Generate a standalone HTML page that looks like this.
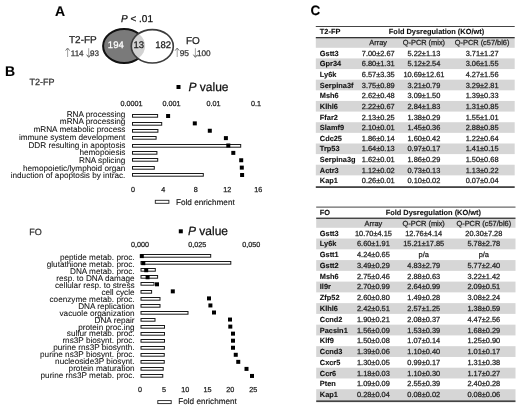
<!DOCTYPE html>
<html><head><meta charset="utf-8"><style>
html,body{margin:0;padding:0;background:#fff;}
svg{display:block;font-family:"Liberation Sans", sans-serif;text-rendering:geometricPrecision;filter:blur(0.35px);}
</style></head><body>
<svg width="520" height="406" viewBox="0 0 520 406">
<rect width="520" height="406" fill="#fff"/>
<text x="55" y="15.8" text-anchor="start" fill="#000" stroke="#000" stroke-width="0.1" style="font-size:14px;font-weight:bold;" >A</text>
<text x="121" y="22" style="font-size:10px" fill="#111" stroke="#111" stroke-width="0.25"><tspan font-style="italic">P</tspan> &lt; .01</text>
<defs><clipPath id="cr"><ellipse cx="152.3" cy="46.3" rx="21.0" ry="16.7"/></clipPath></defs>
<ellipse cx="124.1" cy="46.0" rx="21.0" ry="17.1" fill="#7a7a7a" stroke="#111" stroke-width="2"/>
<ellipse cx="152.3" cy="46.3" rx="21.0" ry="16.7" fill="#fff"/>
<ellipse cx="124.1" cy="46.0" rx="21.0" ry="17.1" fill="#d2d2d2" clip-path="url(#cr)"/>
<ellipse cx="152.3" cy="46.3" rx="21.0" ry="16.7" fill="none" stroke="#3c3c3c" stroke-width="1.6"/>
<text x="115.8" y="48.4" text-anchor="middle" fill="#fff" stroke="#fff" stroke-width="0.25" style="font-size:9.5px;" >194</text>
<text x="138.8" y="48.4" text-anchor="middle" fill="#1a1a1a" stroke="#1a1a1a" stroke-width="0.25" style="font-size:9.5px;" >13</text>
<text x="163.2" y="48.4" text-anchor="middle" fill="#1a1a1a" stroke="#1a1a1a" stroke-width="0.25" style="font-size:9.5px;" >182</text>
<text x="69" y="43" text-anchor="start" fill="#222" stroke="#222" stroke-width="0.25" style="font-size:10px;" >T2-FP</text>
<text x="186" y="43.5" text-anchor="start" fill="#222" stroke="#222" stroke-width="0.25" style="font-size:10px;" >FO</text>
<path d="M67.6 57 L67.6 49" stroke="#999" stroke-width="0.9" fill="none"/>
<path d="M65.6 50.6 L67.6 48 L69.6 50.6" stroke="#666" stroke-width="0.9" fill="none"/>
<text x="70.8" y="55.6" text-anchor="start" fill="#333" stroke="#333" stroke-width="0.25" style="font-size:8px;" >114</text>
<path d="M88.7 48.2 L88.7 56.3" stroke="#999" stroke-width="0.9" fill="none"/>
<path d="M86.7 54.699999999999996 L88.7 57.3 L90.7 54.699999999999996" stroke="#444" stroke-width="0.9" fill="none"/>
<text x="90.0" y="55.6" text-anchor="start" fill="#333" stroke="#333" stroke-width="0.25" style="font-size:8px;" >93</text>
<path d="M177.2 57 L177.2 49" stroke="#999" stroke-width="0.9" fill="none"/>
<path d="M175.2 50.6 L177.2 48 L179.2 50.6" stroke="#666" stroke-width="0.9" fill="none"/>
<text x="179.7" y="55.8" text-anchor="start" fill="#333" stroke="#333" stroke-width="0.25" style="font-size:8.4px;" >95</text>
<path d="M195.4 48.2 L195.4 56.3" stroke="#999" stroke-width="0.9" fill="none"/>
<path d="M193.4 54.699999999999996 L195.4 57.3 L197.4 54.699999999999996" stroke="#444" stroke-width="0.9" fill="none"/>
<text x="197.0" y="55.8" text-anchor="start" fill="#333" stroke="#333" stroke-width="0.25" style="font-size:8.2px;" >100</text>
<text x="5" y="75.6" text-anchor="start" fill="#000" stroke="#000" stroke-width="0.1" style="font-size:14px;font-weight:bold;" >B</text>
<text x="29.4" y="84.8" text-anchor="start" fill="#333" stroke="#333" stroke-width="0.25" style="font-size:9px;" >T2-FP</text>
<rect x="176.5" y="85" width="4" height="4" fill="#000"/>
<text x="188.5" y="90.8" style="font-size:12px" fill="#111" stroke="#111" stroke-width="0.25"><tspan font-style="italic">P</tspan> value</text>
<text x="131.5" y="105.5" text-anchor="middle" fill="#222" stroke="#222" stroke-width="0.25" style="font-size:7.2px;" >0.0001</text>
<text x="171.5" y="105.5" text-anchor="middle" fill="#222" stroke="#222" stroke-width="0.25" style="font-size:7.2px;" >0.001</text>
<text x="213.4" y="105.5" text-anchor="middle" fill="#222" stroke="#222" stroke-width="0.25" style="font-size:7.2px;" >0.01</text>
<text x="256" y="105.5" text-anchor="middle" fill="#222" stroke="#222" stroke-width="0.25" style="font-size:7.2px;" >0.1</text>
<rect x="132.5" y="114.5" width="25.10" height="2.7" fill="#fff" stroke="#1a1a1a" stroke-width="1"/>
<rect x="166.10" y="114.00" width="4" height="4" fill="#000"/>
<text x="125.4" y="116.70" text-anchor="end" fill="#111" stroke="#111" stroke-width="0.06" style="font-size:8.2px;" >RNA processing</text>
<rect x="132.5" y="122.5" width="29.20" height="2.7" fill="#fff" stroke="#1a1a1a" stroke-width="1"/>
<rect x="192.80" y="121.38" width="4" height="4" fill="#000"/>
<text x="125.4" y="124.42" text-anchor="end" fill="#111" stroke="#111" stroke-width="0.06" style="font-size:8.2px;" >mRNA processing</text>
<rect x="132.5" y="129.5" width="25.40" height="2.7" fill="#fff" stroke="#1a1a1a" stroke-width="1"/>
<rect x="207.80" y="128.75" width="4" height="4" fill="#000"/>
<text x="125.4" y="132.14" text-anchor="end" fill="#111" stroke="#111" stroke-width="0.06" style="font-size:8.2px;" >mRNA metabolic process</text>
<rect x="132.5" y="136.5" width="23.60" height="2.7" fill="#fff" stroke="#1a1a1a" stroke-width="1"/>
<rect x="223.90" y="136.12" width="4" height="4" fill="#000"/>
<text x="125.4" y="139.86" text-anchor="end" fill="#111" stroke="#111" stroke-width="0.06" style="font-size:8.2px;" >immune system development</text>
<rect x="132.5" y="144.5" width="108.20" height="2.7" fill="#fff" stroke="#1a1a1a" stroke-width="1"/>
<rect x="226.30" y="143.50" width="4" height="4" fill="#000"/>
<text x="125.4" y="147.58" text-anchor="end" fill="#111" stroke="#111" stroke-width="0.06" style="font-size:8.2px;" >DDR resulting in apoptosis</text>
<rect x="132.5" y="151.5" width="24.40" height="2.7" fill="#fff" stroke="#1a1a1a" stroke-width="1"/>
<rect x="231.30" y="150.88" width="4" height="4" fill="#000"/>
<text x="125.4" y="155.30" text-anchor="end" fill="#111" stroke="#111" stroke-width="0.06" style="font-size:8.2px;" >hemopoiesis</text>
<rect x="132.5" y="158.5" width="25.20" height="2.7" fill="#fff" stroke="#1a1a1a" stroke-width="1"/>
<rect x="239.20" y="158.25" width="4" height="4" fill="#000"/>
<text x="125.4" y="163.02" text-anchor="end" fill="#111" stroke="#111" stroke-width="0.06" style="font-size:8.2px;" >RNA splicing</text>
<rect x="132.5" y="166.5" width="21.80" height="2.7" fill="#fff" stroke="#1a1a1a" stroke-width="1"/>
<rect x="239.80" y="165.62" width="4" height="4" fill="#000"/>
<text x="125.4" y="170.74" text-anchor="end" fill="#111" stroke="#111" stroke-width="0.06" style="font-size:8.2px;" >hemopoietic/lymphoid organ</text>
<rect x="132.5" y="173.5" width="70.80" height="2.7" fill="#fff" stroke="#1a1a1a" stroke-width="1"/>
<rect x="240.10" y="173.00" width="4" height="4" fill="#000"/>
<text x="125.4" y="178.46" text-anchor="end" fill="#111" stroke="#111" stroke-width="0.06" style="font-size:8.2px;" >induction of apoptosis by intrac.</text>
<text x="133" y="191.5" text-anchor="middle" fill="#222" stroke="#222" stroke-width="0.25" style="font-size:7.2px;" >0</text>
<text x="163.3" y="191.5" text-anchor="middle" fill="#222" stroke="#222" stroke-width="0.25" style="font-size:7.2px;" >4</text>
<text x="195.8" y="191.5" text-anchor="middle" fill="#222" stroke="#222" stroke-width="0.25" style="font-size:7.2px;" >8</text>
<text x="227.3" y="191.5" text-anchor="middle" fill="#222" stroke="#222" stroke-width="0.25" style="font-size:7.2px;" >12</text>
<text x="258.2" y="191.5" text-anchor="middle" fill="#222" stroke="#222" stroke-width="0.25" style="font-size:7.2px;" >16</text>
<rect x="155.3" y="200.3" width="13.6" height="3" fill="#fff" stroke="#222" stroke-width="0.9"/>
<text x="176" y="205" text-anchor="start" fill="#111" stroke="#111" stroke-width="0.12" style="font-size:8.2px;" >Fold enrichment</text>
<text x="29.2" y="234.6" text-anchor="start" fill="#333" stroke="#333" stroke-width="0.25" style="font-size:9px;" >FO</text>
<rect x="178.8" y="229.3" width="4" height="4" fill="#000"/>
<text x="188" y="235" style="font-size:12px" fill="#111" stroke="#111" stroke-width="0.25"><tspan font-style="italic">P</tspan> value</text>
<text x="140" y="247" text-anchor="middle" fill="#222" stroke="#222" stroke-width="0.25" style="font-size:7.2px;" >0,000</text>
<text x="197.2" y="247" text-anchor="middle" fill="#222" stroke="#222" stroke-width="0.25" style="font-size:7.2px;" >0,025</text>
<text x="251.3" y="247" text-anchor="middle" fill="#222" stroke="#222" stroke-width="0.25" style="font-size:7.2px;" >0,050</text>
<rect x="141.0" y="254.5" width="69.70" height="2.7" fill="#fff" stroke="#1a1a1a" stroke-width="1"/>
<rect x="139.80" y="254.10" width="4" height="4" fill="#000"/>
<text x="134.6" y="260.00" text-anchor="end" fill="#111" stroke="#111" stroke-width="0.06" style="font-size:8.2px;" >peptide metab. proc.</text>
<rect x="141.0" y="261.5" width="89.80" height="2.7" fill="#fff" stroke="#1a1a1a" stroke-width="1"/>
<rect x="141.30" y="261.15" width="4" height="4" fill="#000"/>
<text x="134.6" y="266.95" text-anchor="end" fill="#111" stroke="#111" stroke-width="0.06" style="font-size:8.2px;" >glutathione metab. proc.</text>
<rect x="141.0" y="268.5" width="14.30" height="2.7" fill="#fff" stroke="#1a1a1a" stroke-width="1"/>
<rect x="144.20" y="268.20" width="4" height="4" fill="#000"/>
<text x="134.6" y="273.90" text-anchor="end" fill="#111" stroke="#111" stroke-width="0.06" style="font-size:8.2px;" >DNA metab. proc.</text>
<rect x="141.0" y="275.5" width="16.60" height="2.7" fill="#fff" stroke="#1a1a1a" stroke-width="1"/>
<rect x="145.60" y="275.25" width="4" height="4" fill="#000"/>
<text x="134.6" y="280.85" text-anchor="end" fill="#111" stroke="#111" stroke-width="0.06" style="font-size:8.2px;" >resp. to DNA damage</text>
<rect x="141.0" y="282.5" width="13.00" height="2.7" fill="#fff" stroke="#1a1a1a" stroke-width="1"/>
<rect x="155.00" y="282.30" width="4" height="4" fill="#000"/>
<text x="134.6" y="287.80" text-anchor="end" fill="#111" stroke="#111" stroke-width="0.06" style="font-size:8.2px;" >cellular resp. to stress</text>
<rect x="141.0" y="290.5" width="10.60" height="2.7" fill="#fff" stroke="#1a1a1a" stroke-width="1"/>
<rect x="170.80" y="289.35" width="4" height="4" fill="#000"/>
<text x="134.6" y="294.75" text-anchor="end" fill="#111" stroke="#111" stroke-width="0.06" style="font-size:8.2px;" >cell cycle</text>
<rect x="141.0" y="297.5" width="19.00" height="2.7" fill="#fff" stroke="#1a1a1a" stroke-width="1"/>
<rect x="207.00" y="296.40" width="4" height="4" fill="#000"/>
<text x="134.6" y="301.70" text-anchor="end" fill="#111" stroke="#111" stroke-width="0.06" style="font-size:8.2px;" >coenzyme metab. proc.</text>
<rect x="141.0" y="304.5" width="19.00" height="2.7" fill="#fff" stroke="#1a1a1a" stroke-width="1"/>
<rect x="208.40" y="303.45" width="4" height="4" fill="#000"/>
<text x="134.6" y="308.65" text-anchor="end" fill="#111" stroke="#111" stroke-width="0.06" style="font-size:8.2px;" >DNA replication</text>
<rect x="141.0" y="311.5" width="47.00" height="2.7" fill="#fff" stroke="#1a1a1a" stroke-width="1"/>
<rect x="212.00" y="310.50" width="4" height="4" fill="#000"/>
<text x="134.6" y="315.60" text-anchor="end" fill="#111" stroke="#111" stroke-width="0.06" style="font-size:8.2px;" >vacuole organization</text>
<rect x="141.0" y="318.5" width="14.00" height="2.7" fill="#fff" stroke="#1a1a1a" stroke-width="1"/>
<rect x="228.00" y="317.55" width="4" height="4" fill="#000"/>
<text x="134.6" y="322.55" text-anchor="end" fill="#111" stroke="#111" stroke-width="0.06" style="font-size:8.2px;" >DNA repair</text>
<rect x="141.0" y="325.5" width="23.50" height="2.7" fill="#fff" stroke="#1a1a1a" stroke-width="1"/>
<rect x="228.30" y="324.60" width="4" height="4" fill="#000"/>
<text x="134.6" y="329.50" text-anchor="end" fill="#111" stroke="#111" stroke-width="0.06" style="font-size:8.2px;" >protein proc.ing</text>
<rect x="141.0" y="332.5" width="23.50" height="2.7" fill="#fff" stroke="#1a1a1a" stroke-width="1"/>
<rect x="231.00" y="331.65" width="4" height="4" fill="#000"/>
<text x="134.6" y="336.45" text-anchor="end" fill="#111" stroke="#111" stroke-width="0.06" style="font-size:8.2px;" >sulfur metab. proc.</text>
<rect x="141.0" y="339.5" width="23.50" height="2.7" fill="#fff" stroke="#1a1a1a" stroke-width="1"/>
<rect x="231.00" y="338.70" width="4" height="4" fill="#000"/>
<text x="134.6" y="343.40" text-anchor="end" fill="#111" stroke="#111" stroke-width="0.06" style="font-size:8.2px;" >rns3P biosynt. proc.</text>
<rect x="141.0" y="346.5" width="23.40" height="2.7" fill="#fff" stroke="#1a1a1a" stroke-width="1"/>
<rect x="231.00" y="345.75" width="4" height="4" fill="#000"/>
<text x="134.6" y="350.35" text-anchor="end" fill="#111" stroke="#111" stroke-width="0.06" style="font-size:8.2px;" >purine rns3P biosynth.</text>
<rect x="141.0" y="353.5" width="23.25" height="2.7" fill="#fff" stroke="#1a1a1a" stroke-width="1"/>
<rect x="233.75" y="352.80" width="4" height="4" fill="#000"/>
<text x="134.6" y="357.30" text-anchor="end" fill="#111" stroke="#111" stroke-width="0.06" style="font-size:8.2px;" >purine ns3P biosynt. proc.</text>
<rect x="141.0" y="360.5" width="23.25" height="2.7" fill="#fff" stroke="#1a1a1a" stroke-width="1"/>
<rect x="236.25" y="359.85" width="4" height="4" fill="#000"/>
<text x="134.6" y="364.25" text-anchor="end" fill="#111" stroke="#111" stroke-width="0.06" style="font-size:8.2px;" >nucleoside3P biosynt.</text>
<rect x="141.0" y="367.5" width="22.25" height="2.7" fill="#fff" stroke="#1a1a1a" stroke-width="1"/>
<rect x="244.50" y="366.90" width="4" height="4" fill="#000"/>
<text x="134.6" y="371.20" text-anchor="end" fill="#111" stroke="#111" stroke-width="0.06" style="font-size:8.2px;" >protein maturation</text>
<rect x="141.0" y="374.5" width="21.75" height="2.7" fill="#fff" stroke="#1a1a1a" stroke-width="1"/>
<rect x="250.00" y="373.95" width="4" height="4" fill="#000"/>
<text x="134.6" y="378.15" text-anchor="end" fill="#111" stroke="#111" stroke-width="0.06" style="font-size:8.2px;" >purine rns3P metab. proc.</text>
<text x="140" y="392.4" text-anchor="middle" fill="#222" stroke="#222" stroke-width="0.25" style="font-size:7.2px;" >0</text>
<text x="164" y="392.4" text-anchor="middle" fill="#222" stroke="#222" stroke-width="0.25" style="font-size:7.2px;" >5</text>
<text x="185.2" y="392.4" text-anchor="middle" fill="#222" stroke="#222" stroke-width="0.25" style="font-size:7.2px;" >10</text>
<text x="207.4" y="392.4" text-anchor="middle" fill="#222" stroke="#222" stroke-width="0.25" style="font-size:7.2px;" >15</text>
<text x="230.3" y="392.4" text-anchor="middle" fill="#222" stroke="#222" stroke-width="0.25" style="font-size:7.2px;" >20</text>
<text x="253.2" y="392.4" text-anchor="middle" fill="#222" stroke="#222" stroke-width="0.25" style="font-size:7.2px;" >25</text>
<rect x="157.8" y="400.6" width="13.4" height="3" fill="#fff" stroke="#222" stroke-width="0.9"/>
<text x="178.2" y="404.2" text-anchor="start" fill="#111" stroke="#111" stroke-width="0.12" style="font-size:8.2px;" >Fold enrichment</text>
<text x="310.4" y="15.2" text-anchor="start" fill="#000" stroke="#000" stroke-width="0.1" style="font-size:13.5px;font-weight:bold;" >C</text>
<rect x="315.8" y="26.0" width="198.90000000000003" height="1" fill="#444"/>
<text x="319.8" y="34.1" text-anchor="start" fill="#111" stroke="#111" stroke-width="0.1" style="font-size:7.4px;font-weight:bold;" >T2-FP</text>
<text x="436.5" y="34.1" text-anchor="middle" fill="#111" stroke="#111" stroke-width="0.1" style="font-size:7.4px;font-weight:bold;" >Fold Dysregulation (KO/wt)</text>
<rect x="315.8" y="38.0" width="198.90000000000003" height="9.799999999999997" fill="#d6d6d6"/>
<rect x="315.8" y="37.0" width="198.90000000000003" height="1.3" fill="#333"/>
<text x="378.2" y="45.3" text-anchor="middle" fill="#222" stroke="#222" stroke-width="0.25" style="font-size:7.4px;" >Array</text>
<text x="423.9" y="45.3" text-anchor="middle" fill="#222" stroke="#222" stroke-width="0.25" style="font-size:7.4px;" >Q-PCR (mix)</text>
<text x="482.1" y="45.3" text-anchor="middle" fill="#222" stroke="#222" stroke-width="0.25" style="font-size:7.4px;" >Q-PCR (c57/bl6)</text>
<text x="319.8" y="55.82" text-anchor="start" fill="#111" stroke="#111" stroke-width="0.1" style="font-size:7.4px;font-weight:bold;" >Gstt3</text>
<text x="378.2" y="55.82" text-anchor="middle" fill="#222" stroke="#222" stroke-width="0.25" style="font-size:7.4px;" >7.00±2.67</text>
<text x="423.9" y="55.82" text-anchor="middle" fill="#222" stroke="#222" stroke-width="0.25" style="font-size:7.4px;" >5.22±1.13</text>
<text x="482.1" y="55.82" text-anchor="middle" fill="#222" stroke="#222" stroke-width="0.25" style="font-size:7.4px;" >3.71±1.27</text>
<rect x="315.8" y="58.43" width="198.90000000000003" height="10.63" fill="#d6d6d6"/>
<text x="319.8" y="66.45" text-anchor="start" fill="#111" stroke="#111" stroke-width="0.1" style="font-size:7.4px;font-weight:bold;" >Gpr34</text>
<text x="378.2" y="66.45" text-anchor="middle" fill="#222" stroke="#222" stroke-width="0.25" style="font-size:7.4px;" >6.80±1.31</text>
<text x="423.9" y="66.45" text-anchor="middle" fill="#222" stroke="#222" stroke-width="0.25" style="font-size:7.4px;" >5.12±2.54</text>
<text x="482.1" y="66.45" text-anchor="middle" fill="#222" stroke="#222" stroke-width="0.25" style="font-size:7.4px;" >3.06±1.55</text>
<text x="319.8" y="77.08" text-anchor="start" fill="#111" stroke="#111" stroke-width="0.1" style="font-size:7.4px;font-weight:bold;" >Ly6k</text>
<text x="378.2" y="77.08" text-anchor="middle" fill="#222" stroke="#222" stroke-width="0.25" style="font-size:7.4px;" >6.57±3.35</text>
<text x="423.9" y="77.08" text-anchor="middle" fill="#222" stroke="#222" stroke-width="0.25" style="font-size:7.4px;" >10.69±12.61</text>
<text x="482.1" y="77.08" text-anchor="middle" fill="#222" stroke="#222" stroke-width="0.25" style="font-size:7.4px;" >4.27±1.56</text>
<rect x="315.8" y="79.69" width="198.90000000000003" height="10.63" fill="#d6d6d6"/>
<text x="319.8" y="87.71" text-anchor="start" fill="#111" stroke="#111" stroke-width="0.1" style="font-size:7.4px;font-weight:bold;" >Serpina3f</text>
<text x="378.2" y="87.71" text-anchor="middle" fill="#222" stroke="#222" stroke-width="0.25" style="font-size:7.4px;" >3.75±0.89</text>
<text x="423.9" y="87.71" text-anchor="middle" fill="#222" stroke="#222" stroke-width="0.25" style="font-size:7.4px;" >3.21±0.79</text>
<text x="482.1" y="87.71" text-anchor="middle" fill="#222" stroke="#222" stroke-width="0.25" style="font-size:7.4px;" >3.29±2.81</text>
<text x="319.8" y="98.34" text-anchor="start" fill="#111" stroke="#111" stroke-width="0.1" style="font-size:7.4px;font-weight:bold;" >Msh6</text>
<text x="378.2" y="98.34" text-anchor="middle" fill="#222" stroke="#222" stroke-width="0.25" style="font-size:7.4px;" >2.62±0.48</text>
<text x="423.9" y="98.34" text-anchor="middle" fill="#222" stroke="#222" stroke-width="0.25" style="font-size:7.4px;" >3.09±1.50</text>
<text x="482.1" y="98.34" text-anchor="middle" fill="#222" stroke="#222" stroke-width="0.25" style="font-size:7.4px;" >1.39±0.33</text>
<rect x="315.8" y="100.95" width="198.90000000000003" height="10.63" fill="#d6d6d6"/>
<text x="319.8" y="108.97" text-anchor="start" fill="#111" stroke="#111" stroke-width="0.1" style="font-size:7.4px;font-weight:bold;" >Klhl6</text>
<text x="378.2" y="108.97" text-anchor="middle" fill="#222" stroke="#222" stroke-width="0.25" style="font-size:7.4px;" >2.22±0.67</text>
<text x="423.9" y="108.97" text-anchor="middle" fill="#222" stroke="#222" stroke-width="0.25" style="font-size:7.4px;" >2.84±1.83</text>
<text x="482.1" y="108.97" text-anchor="middle" fill="#222" stroke="#222" stroke-width="0.25" style="font-size:7.4px;" >1.31±0.85</text>
<text x="319.8" y="119.60" text-anchor="start" fill="#111" stroke="#111" stroke-width="0.1" style="font-size:7.4px;font-weight:bold;" >Ffar2</text>
<text x="378.2" y="119.60" text-anchor="middle" fill="#222" stroke="#222" stroke-width="0.25" style="font-size:7.4px;" >2.13±0.25</text>
<text x="423.9" y="119.60" text-anchor="middle" fill="#222" stroke="#222" stroke-width="0.25" style="font-size:7.4px;" >1.38±0.29</text>
<text x="482.1" y="119.60" text-anchor="middle" fill="#222" stroke="#222" stroke-width="0.25" style="font-size:7.4px;" >1.55±1.01</text>
<rect x="315.8" y="122.22" width="198.90000000000003" height="10.63" fill="#d6d6d6"/>
<text x="319.8" y="130.23" text-anchor="start" fill="#111" stroke="#111" stroke-width="0.1" style="font-size:7.4px;font-weight:bold;" >Slamf9</text>
<text x="378.2" y="130.23" text-anchor="middle" fill="#222" stroke="#222" stroke-width="0.25" style="font-size:7.4px;" >2.10±0.01</text>
<text x="423.9" y="130.23" text-anchor="middle" fill="#222" stroke="#222" stroke-width="0.25" style="font-size:7.4px;" >1.45±0.36</text>
<text x="482.1" y="130.23" text-anchor="middle" fill="#222" stroke="#222" stroke-width="0.25" style="font-size:7.4px;" >2.88±0.85</text>
<text x="319.8" y="140.86" text-anchor="start" fill="#111" stroke="#111" stroke-width="0.1" style="font-size:7.4px;font-weight:bold;" >Cdc25</text>
<text x="378.2" y="140.86" text-anchor="middle" fill="#222" stroke="#222" stroke-width="0.25" style="font-size:7.4px;" >1.86±0.14</text>
<text x="423.9" y="140.86" text-anchor="middle" fill="#222" stroke="#222" stroke-width="0.25" style="font-size:7.4px;" >1.60±0.42</text>
<text x="482.1" y="140.86" text-anchor="middle" fill="#222" stroke="#222" stroke-width="0.25" style="font-size:7.4px;" >1.22±0.64</text>
<rect x="315.8" y="143.48" width="198.90000000000003" height="10.63" fill="#d6d6d6"/>
<text x="319.8" y="151.49" text-anchor="start" fill="#111" stroke="#111" stroke-width="0.1" style="font-size:7.4px;font-weight:bold;" >Trp53</text>
<text x="378.2" y="151.49" text-anchor="middle" fill="#222" stroke="#222" stroke-width="0.25" style="font-size:7.4px;" >1.64±0.13</text>
<text x="423.9" y="151.49" text-anchor="middle" fill="#222" stroke="#222" stroke-width="0.25" style="font-size:7.4px;" >0.97±0.17</text>
<text x="482.1" y="151.49" text-anchor="middle" fill="#222" stroke="#222" stroke-width="0.25" style="font-size:7.4px;" >1.41±0.15</text>
<text x="319.8" y="162.12" text-anchor="start" fill="#111" stroke="#111" stroke-width="0.1" style="font-size:7.4px;font-weight:bold;" >Serpina3g</text>
<text x="378.2" y="162.12" text-anchor="middle" fill="#222" stroke="#222" stroke-width="0.25" style="font-size:7.4px;" >1.62±0.01</text>
<text x="423.9" y="162.12" text-anchor="middle" fill="#222" stroke="#222" stroke-width="0.25" style="font-size:7.4px;" >1.86±0.29</text>
<text x="482.1" y="162.12" text-anchor="middle" fill="#222" stroke="#222" stroke-width="0.25" style="font-size:7.4px;" >1.50±0.68</text>
<rect x="315.8" y="164.74" width="198.90000000000003" height="10.63" fill="#d6d6d6"/>
<text x="319.8" y="172.75" text-anchor="start" fill="#111" stroke="#111" stroke-width="0.1" style="font-size:7.4px;font-weight:bold;" >Actr3</text>
<text x="378.2" y="172.75" text-anchor="middle" fill="#222" stroke="#222" stroke-width="0.25" style="font-size:7.4px;" >1.12±0.02</text>
<text x="423.9" y="172.75" text-anchor="middle" fill="#222" stroke="#222" stroke-width="0.25" style="font-size:7.4px;" >0.73±0.13</text>
<text x="482.1" y="172.75" text-anchor="middle" fill="#222" stroke="#222" stroke-width="0.25" style="font-size:7.4px;" >1.13±0.22</text>
<text x="319.8" y="183.38" text-anchor="start" fill="#111" stroke="#111" stroke-width="0.1" style="font-size:7.4px;font-weight:bold;" >Kap1</text>
<text x="378.2" y="183.38" text-anchor="middle" fill="#222" stroke="#222" stroke-width="0.25" style="font-size:7.4px;" >0.26±0.01</text>
<text x="423.9" y="183.38" text-anchor="middle" fill="#222" stroke="#222" stroke-width="0.25" style="font-size:7.4px;" >0.10±0.02</text>
<text x="482.1" y="183.38" text-anchor="middle" fill="#222" stroke="#222" stroke-width="0.25" style="font-size:7.4px;" >0.07±0.04</text>
<rect x="315.8" y="186.2" width="198.90000000000003" height="1.8" fill="#444"/>
<rect x="316.2" y="206.6" width="199.3" height="1" fill="#444"/>
<text x="319.8" y="214.7" text-anchor="start" fill="#111" stroke="#111" stroke-width="0.1" style="font-size:7.4px;font-weight:bold;" >FO</text>
<text x="433.3" y="214.7" text-anchor="middle" fill="#111" stroke="#111" stroke-width="0.1" style="font-size:7.4px;font-weight:bold;" >Fold Dysregulation (KO/wt)</text>
<rect x="316.2" y="218.6" width="199.3" height="9.200000000000017" fill="#d6d6d6"/>
<rect x="316.2" y="217.6" width="199.3" height="1.3" fill="#333"/>
<text x="373.4" y="225.9" text-anchor="middle" fill="#222" stroke="#222" stroke-width="0.25" style="font-size:7.4px;" >Array</text>
<text x="423.7" y="225.9" text-anchor="middle" fill="#222" stroke="#222" stroke-width="0.25" style="font-size:7.4px;" >Q-PCR (mix)</text>
<text x="483.8" y="225.9" text-anchor="middle" fill="#222" stroke="#222" stroke-width="0.25" style="font-size:7.4px;" >Q-PCR (c57/bl6)</text>
<text x="319.8" y="235.68" text-anchor="start" fill="#111" stroke="#111" stroke-width="0.1" style="font-size:7.4px;font-weight:bold;" >Gstt3</text>
<text x="373.4" y="235.68" text-anchor="middle" fill="#222" stroke="#222" stroke-width="0.25" style="font-size:7.4px;" >10.70±4.15</text>
<text x="423.7" y="235.68" text-anchor="middle" fill="#222" stroke="#222" stroke-width="0.25" style="font-size:7.4px;" >12.76±4.14</text>
<text x="483.8" y="235.68" text-anchor="middle" fill="#222" stroke="#222" stroke-width="0.25" style="font-size:7.4px;" >20.30±7.28</text>
<rect x="316.2" y="238.56" width="199.3" height="10.76" fill="#d6d6d6"/>
<text x="319.8" y="246.44" text-anchor="start" fill="#111" stroke="#111" stroke-width="0.1" style="font-size:7.4px;font-weight:bold;" >Ly6k</text>
<text x="373.4" y="246.44" text-anchor="middle" fill="#222" stroke="#222" stroke-width="0.25" style="font-size:7.4px;" >6.60±1.91</text>
<text x="423.7" y="246.44" text-anchor="middle" fill="#222" stroke="#222" stroke-width="0.25" style="font-size:7.4px;" >15.21±17.85</text>
<text x="483.8" y="246.44" text-anchor="middle" fill="#222" stroke="#222" stroke-width="0.25" style="font-size:7.4px;" >5.78±2.78</text>
<text x="319.8" y="257.21" text-anchor="start" fill="#111" stroke="#111" stroke-width="0.1" style="font-size:7.4px;font-weight:bold;" >Gstt1</text>
<text x="373.4" y="257.21" text-anchor="middle" fill="#222" stroke="#222" stroke-width="0.25" style="font-size:7.4px;" >4.24±0.65</text>
<text x="423.7" y="257.21" text-anchor="middle" fill="#222" stroke="#222" stroke-width="0.25" style="font-size:7.4px;" >p/a</text>
<text x="483.8" y="257.21" text-anchor="middle" fill="#222" stroke="#222" stroke-width="0.25" style="font-size:7.4px;" >p/a</text>
<rect x="316.2" y="260.09" width="199.3" height="10.76" fill="#d6d6d6"/>
<text x="319.8" y="267.97" text-anchor="start" fill="#111" stroke="#111" stroke-width="0.1" style="font-size:7.4px;font-weight:bold;" >Gstt2</text>
<text x="373.4" y="267.97" text-anchor="middle" fill="#222" stroke="#222" stroke-width="0.25" style="font-size:7.4px;" >3.49±0.29</text>
<text x="423.7" y="267.97" text-anchor="middle" fill="#222" stroke="#222" stroke-width="0.25" style="font-size:7.4px;" >4.83±2.79</text>
<text x="483.8" y="267.97" text-anchor="middle" fill="#222" stroke="#222" stroke-width="0.25" style="font-size:7.4px;" >5.77±2.40</text>
<text x="319.8" y="278.73" text-anchor="start" fill="#111" stroke="#111" stroke-width="0.1" style="font-size:7.4px;font-weight:bold;" >Msh6</text>
<text x="373.4" y="278.73" text-anchor="middle" fill="#222" stroke="#222" stroke-width="0.25" style="font-size:7.4px;" >2.75±0.46</text>
<text x="423.7" y="278.73" text-anchor="middle" fill="#222" stroke="#222" stroke-width="0.25" style="font-size:7.4px;" >2.88±0.63</text>
<text x="483.8" y="278.73" text-anchor="middle" fill="#222" stroke="#222" stroke-width="0.25" style="font-size:7.4px;" >3.22±1.42</text>
<rect x="316.2" y="281.61" width="199.3" height="10.76" fill="#d6d6d6"/>
<text x="319.8" y="289.49" text-anchor="start" fill="#111" stroke="#111" stroke-width="0.1" style="font-size:7.4px;font-weight:bold;" >Il9r</text>
<text x="373.4" y="289.49" text-anchor="middle" fill="#222" stroke="#222" stroke-width="0.25" style="font-size:7.4px;" >2.70±0.99</text>
<text x="423.7" y="289.49" text-anchor="middle" fill="#222" stroke="#222" stroke-width="0.25" style="font-size:7.4px;" >2.64±0.99</text>
<text x="483.8" y="289.49" text-anchor="middle" fill="#222" stroke="#222" stroke-width="0.25" style="font-size:7.4px;" >2.09±0.51</text>
<text x="319.8" y="300.26" text-anchor="start" fill="#111" stroke="#111" stroke-width="0.1" style="font-size:7.4px;font-weight:bold;" >Zfp52</text>
<text x="373.4" y="300.26" text-anchor="middle" fill="#222" stroke="#222" stroke-width="0.25" style="font-size:7.4px;" >2.60±0.80</text>
<text x="423.7" y="300.26" text-anchor="middle" fill="#222" stroke="#222" stroke-width="0.25" style="font-size:7.4px;" >1.49±0.28</text>
<text x="483.8" y="300.26" text-anchor="middle" fill="#222" stroke="#222" stroke-width="0.25" style="font-size:7.4px;" >3.08±2.24</text>
<rect x="316.2" y="303.14" width="199.3" height="10.76" fill="#d6d6d6"/>
<text x="319.8" y="311.02" text-anchor="start" fill="#111" stroke="#111" stroke-width="0.1" style="font-size:7.4px;font-weight:bold;" >Klhl6</text>
<text x="373.4" y="311.02" text-anchor="middle" fill="#222" stroke="#222" stroke-width="0.25" style="font-size:7.4px;" >2.42±0.51</text>
<text x="423.7" y="311.02" text-anchor="middle" fill="#222" stroke="#222" stroke-width="0.25" style="font-size:7.4px;" >2.57±1.25</text>
<text x="483.8" y="311.02" text-anchor="middle" fill="#222" stroke="#222" stroke-width="0.25" style="font-size:7.4px;" >1.38±0.59</text>
<text x="319.8" y="321.78" text-anchor="start" fill="#111" stroke="#111" stroke-width="0.1" style="font-size:7.4px;font-weight:bold;" >Ccnd2</text>
<text x="373.4" y="321.78" text-anchor="middle" fill="#222" stroke="#222" stroke-width="0.25" style="font-size:7.4px;" >1.90±0.21</text>
<text x="423.7" y="321.78" text-anchor="middle" fill="#222" stroke="#222" stroke-width="0.25" style="font-size:7.4px;" >2.08±0.37</text>
<text x="483.8" y="321.78" text-anchor="middle" fill="#222" stroke="#222" stroke-width="0.25" style="font-size:7.4px;" >4.47±2.56</text>
<rect x="316.2" y="324.66" width="199.3" height="10.76" fill="#d6d6d6"/>
<text x="319.8" y="332.54" text-anchor="start" fill="#111" stroke="#111" stroke-width="0.1" style="font-size:7.4px;font-weight:bold;" >Pacsin1</text>
<text x="373.4" y="332.54" text-anchor="middle" fill="#222" stroke="#222" stroke-width="0.25" style="font-size:7.4px;" >1.56±0.09</text>
<text x="423.7" y="332.54" text-anchor="middle" fill="#222" stroke="#222" stroke-width="0.25" style="font-size:7.4px;" >1.53±0.39</text>
<text x="483.8" y="332.54" text-anchor="middle" fill="#222" stroke="#222" stroke-width="0.25" style="font-size:7.4px;" >1.68±0.29</text>
<text x="319.8" y="343.31" text-anchor="start" fill="#111" stroke="#111" stroke-width="0.1" style="font-size:7.4px;font-weight:bold;" >Klf9</text>
<text x="373.4" y="343.31" text-anchor="middle" fill="#222" stroke="#222" stroke-width="0.25" style="font-size:7.4px;" >1.50±0.08</text>
<text x="423.7" y="343.31" text-anchor="middle" fill="#222" stroke="#222" stroke-width="0.25" style="font-size:7.4px;" >1.07±0.14</text>
<text x="483.8" y="343.31" text-anchor="middle" fill="#222" stroke="#222" stroke-width="0.25" style="font-size:7.4px;" >1.25±0.90</text>
<rect x="316.2" y="346.19" width="199.3" height="10.76" fill="#d6d6d6"/>
<text x="319.8" y="354.07" text-anchor="start" fill="#111" stroke="#111" stroke-width="0.1" style="font-size:7.4px;font-weight:bold;" >Ccnd3</text>
<text x="373.4" y="354.07" text-anchor="middle" fill="#222" stroke="#222" stroke-width="0.25" style="font-size:7.4px;" >1.39±0.06</text>
<text x="423.7" y="354.07" text-anchor="middle" fill="#222" stroke="#222" stroke-width="0.25" style="font-size:7.4px;" >1.10±0.40</text>
<text x="483.8" y="354.07" text-anchor="middle" fill="#222" stroke="#222" stroke-width="0.25" style="font-size:7.4px;" >1.01±0.17</text>
<text x="319.8" y="364.83" text-anchor="start" fill="#111" stroke="#111" stroke-width="0.1" style="font-size:7.4px;font-weight:bold;" >Cxcr5</text>
<text x="373.4" y="364.83" text-anchor="middle" fill="#222" stroke="#222" stroke-width="0.25" style="font-size:7.4px;" >1.30±0.05</text>
<text x="423.7" y="364.83" text-anchor="middle" fill="#222" stroke="#222" stroke-width="0.25" style="font-size:7.4px;" >0.99±0.17</text>
<text x="483.8" y="364.83" text-anchor="middle" fill="#222" stroke="#222" stroke-width="0.25" style="font-size:7.4px;" >1.31±0.38</text>
<rect x="316.2" y="367.71" width="199.3" height="10.76" fill="#d6d6d6"/>
<text x="319.8" y="375.59" text-anchor="start" fill="#111" stroke="#111" stroke-width="0.1" style="font-size:7.4px;font-weight:bold;" >Ccr6</text>
<text x="373.4" y="375.59" text-anchor="middle" fill="#222" stroke="#222" stroke-width="0.25" style="font-size:7.4px;" >1.18±0.03</text>
<text x="423.7" y="375.59" text-anchor="middle" fill="#222" stroke="#222" stroke-width="0.25" style="font-size:7.4px;" >1.10±0.30</text>
<text x="483.8" y="375.59" text-anchor="middle" fill="#222" stroke="#222" stroke-width="0.25" style="font-size:7.4px;" >1.17±0.27</text>
<text x="319.8" y="386.36" text-anchor="start" fill="#111" stroke="#111" stroke-width="0.1" style="font-size:7.4px;font-weight:bold;" >Pten</text>
<text x="373.4" y="386.36" text-anchor="middle" fill="#222" stroke="#222" stroke-width="0.25" style="font-size:7.4px;" >1.09±0.09</text>
<text x="423.7" y="386.36" text-anchor="middle" fill="#222" stroke="#222" stroke-width="0.25" style="font-size:7.4px;" >2.55±0.39</text>
<text x="483.8" y="386.36" text-anchor="middle" fill="#222" stroke="#222" stroke-width="0.25" style="font-size:7.4px;" >2.40±0.28</text>
<rect x="316.2" y="389.24" width="199.3" height="10.76" fill="#d6d6d6"/>
<text x="319.8" y="397.12" text-anchor="start" fill="#111" stroke="#111" stroke-width="0.1" style="font-size:7.4px;font-weight:bold;" >Kap1</text>
<text x="373.4" y="397.12" text-anchor="middle" fill="#222" stroke="#222" stroke-width="0.25" style="font-size:7.4px;" >0.28±0.04</text>
<text x="423.7" y="397.12" text-anchor="middle" fill="#222" stroke="#222" stroke-width="0.25" style="font-size:7.4px;" >0.08±0.02</text>
<text x="483.8" y="397.12" text-anchor="middle" fill="#222" stroke="#222" stroke-width="0.25" style="font-size:7.4px;" >0.08±0.06</text>
<rect x="316.2" y="400.3" width="199.3" height="1.8" fill="#444"/>
</svg>
</body></html>
